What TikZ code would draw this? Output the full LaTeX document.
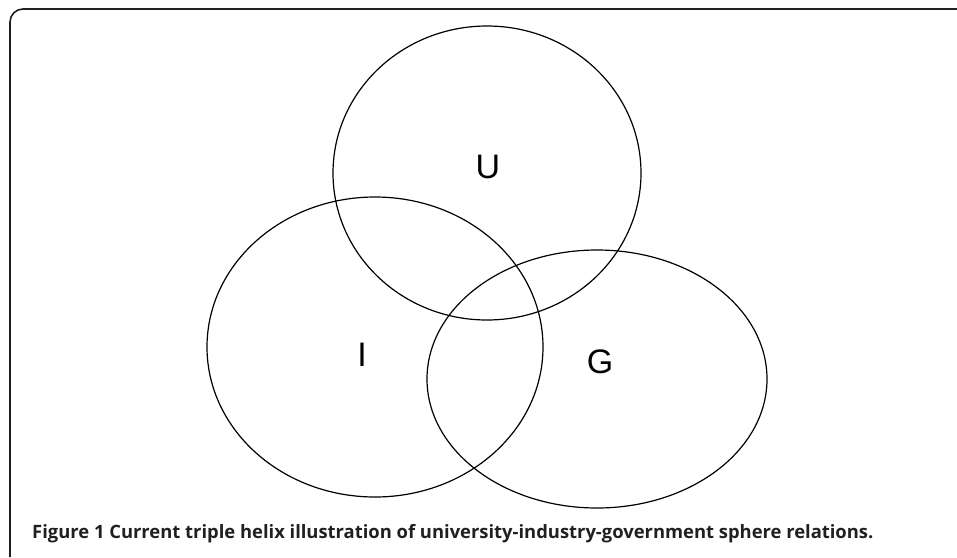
\documentclass[tikz,border=0pt]{standalone}
\usepackage{fontspec}
\setmainfont{Liberation Sans}
\newfontfamily\capfont{Open Sans}
\definecolor{capgray}{HTML}{231F20}
\begin{document}
\begin{tikzpicture}[x=1pt,y=-1pt,
  sphere/.style={draw=black,line width=1.2pt},
  lbl/.style={font=\fontsize{34}{37}\selectfont,text=black,inner sep=0pt},
  frame/.style={draw=capgray,line width=1.6pt}]
\useasboundingbox (0,0) rectangle (957,557);
% frame
\draw[frame] (10,557) -- (10,22) arc[start angle=180,end angle=90,x radius=13,y radius=-13] -- (957,9);
% spheres
\draw[sphere] (487,173) ellipse[x radius=154,y radius=147];
\draw[sphere] (375,347) ellipse[x radius=168,y radius=150];
\draw[sphere] (597,379) ellipse[x radius=170,y radius=129];
\node[lbl] (u) at (488,167) {U};
\node[lbl] (i) at (362,355) {I};
\node[lbl] (g) at (600,362) {G};
\node[anchor=base west,inner sep=0pt,text=capgray,font=\capfont\bfseries\fontsize{18.4}{22}\selectfont] (cap) at (32,538) {Figure 1 Current triple helix illustration of university-industry-government sphere relations.};
\end{tikzpicture}
\end{document}
